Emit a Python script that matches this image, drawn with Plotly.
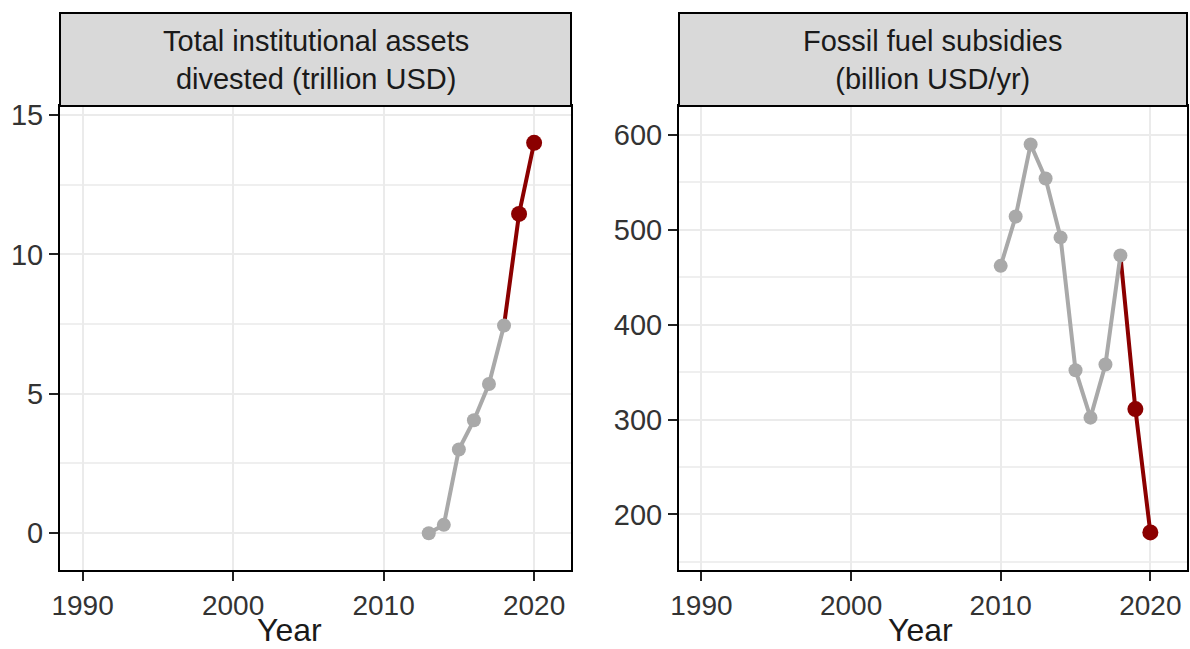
import plotly.graph_objects as go

# ---- data ----
assets_years = [2013, 2014, 2015, 2016, 2017, 2018, 2019, 2020]
assets_values = [0.0, 0.3, 3.0, 4.05, 5.35, 7.45, 11.45, 14.0]

subsidy_years = [2010, 2011, 2012, 2013, 2014, 2015, 2016, 2017, 2018, 2019, 2020]
subsidy_values = [462, 514, 590, 554, 492, 352, 302, 358, 473, 311, 181]

split_year = 2018  # gray up to this year, dark red afterwards

panel_titles = ["Total institutional assets<br>divested (trillion USD)",
                "Fossil fuel subsidies<br>(billion USD/yr)"]
x_ticks = [1990, 2000, 2010, 2020]
left_y_ticks = [0, 5, 10, 15]
right_y_ticks = [200, 300, 400, 500, 600]

GRAY = "#A9A9A9"
RED = "#8B0000"
FONT = "Liberation Sans, Arial, sans-serif"

W, H = 1190, 649
fig = go.Figure()


def add_series(years, values, xa, ya):
    hist_x = [y for y in years if y <= split_year]
    hist_y = [v for y, v in zip(years, values) if y <= split_year]
    fut_x = [y for y in years if y >= split_year]
    fut_y = [v for y, v in zip(years, values) if y >= split_year]
    fig.add_trace(go.Scatter(x=fut_x, y=fut_y, mode="lines",
                             line=dict(color=RED, width=4),
                             xaxis=xa, yaxis=ya, showlegend=False, hoverinfo="skip"))
    fig.add_trace(go.Scatter(x=fut_x[1:], y=fut_y[1:], mode="markers",
                             marker=dict(color=RED, size=16),
                             xaxis=xa, yaxis=ya, showlegend=False))
    fig.add_trace(go.Scatter(x=hist_x, y=hist_y, mode="lines+markers",
                             line=dict(color=GRAY, width=4),
                             marker=dict(color=GRAY, size=14),
                             xaxis=xa, yaxis=ya, showlegend=False))


add_series(assets_years, assets_values, "x", "y")
add_series(subsidy_years, subsidy_values, "x2", "y2")

# panel geometry in pixels
left_px = (60, 571)
right_px = (679, 1187)
plot_top, plot_bottom = 106, 570
strip_top = 13

dom_y = [1 - plot_bottom / H, 1 - plot_top / H]

common_x = dict(range=[1988.5, 2022.45], tickvals=x_ticks, showgrid=True,
                gridcolor="#EBEBEB", gridwidth=2, zeroline=False, automargin=False,
                showline=True, linecolor="black", linewidth=2, mirror=True,
                ticks="outside", ticklen=9, tickwidth=2, tickcolor="#222222",
                tickfont=dict(size=28, color="#333333", family=FONT))
common_y = dict(showgrid=True, gridcolor="#EBEBEB", gridwidth=2, zeroline=False,
                automargin=False,
                showline=True, linecolor="black", linewidth=2, mirror=True,
                ticks="outside", ticklen=9, tickwidth=2, tickcolor="#222222",
                tickfont=dict(size=29, color="#333333", family=FONT))

fig.update_layout(
    width=W, height=H,
    margin=dict(l=0, r=0, t=0, b=0),
    paper_bgcolor="white", plot_bgcolor="white",
    font=dict(family=FONT),
    xaxis=dict(domain=[left_px[0] / W, left_px[1] / W], anchor="y", **common_x),
    xaxis2=dict(domain=[right_px[0] / W, right_px[1] / W], anchor="y2", **common_x),
    yaxis=dict(domain=dom_y, anchor="x", range=[-1.32, 15.32], tickvals=left_y_ticks,
               minor=dict(showgrid=True, gridcolor="#EFEFEF", gridwidth=1.5,
                          tickvals=[2.5, 7.5, 12.5], ticks=""),
               **common_y),
    yaxis2=dict(domain=dom_y, anchor="x2", range=[141.4, 630.5], tickvals=right_y_ticks,
                minor=dict(showgrid=True, gridcolor="#EFEFEF", gridwidth=1.5,
                           tickvals=[150, 250, 350, 450, 550], ticks=""),
                **common_y),
)

# strips
for (x0, x1), title in zip([left_px, right_px], panel_titles):
    fig.add_shape(type="rect", xref="paper", yref="paper",
                  x0=x0 / W, x1=x1 / W, y0=1 - plot_top / H, y1=1 - strip_top / H,
                  fillcolor="#D9D9D9", line=dict(color="black", width=2), layer="above")
    fig.add_annotation(xref="paper", yref="paper", x=(x0 + x1) / 2 / W,
                       y=1 - (plot_top + strip_top) / 2 / H, text=title, showarrow=False,
                       font=dict(size=29, color="#1A1A1A", family=FONT),
                       xanchor="center", yanchor="middle", align="center")

# axis titles
for cx in [289, 920]:
    fig.add_annotation(xref="paper", yref="paper", x=cx / W, y=0,
                       text="Year", showarrow=False,
                       font=dict(size=32, color="#1A1A1A", family=FONT),
                       xanchor="center", yanchor="bottom", borderpad=0)

fig.write_html("out.html")
